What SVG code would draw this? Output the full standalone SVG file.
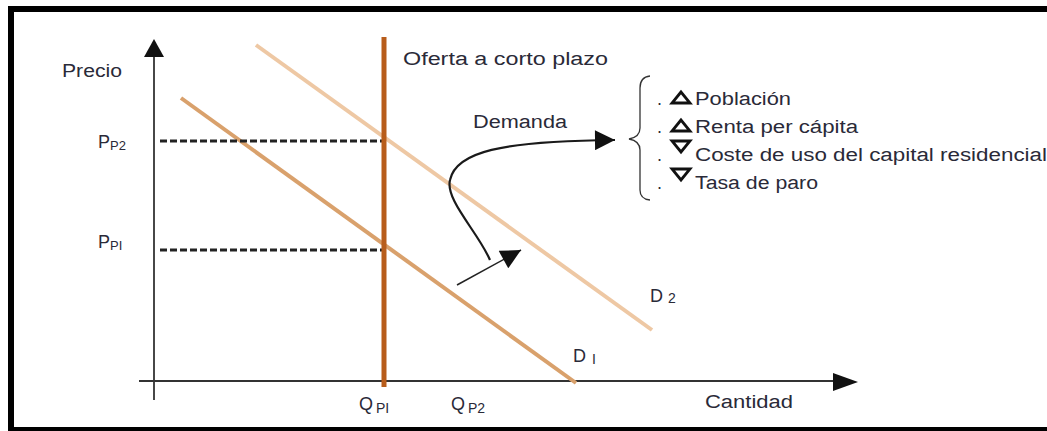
<svg xmlns="http://www.w3.org/2000/svg" width="1047" height="431" viewBox="0 0 1047 431">
<style>
.t{font-family:"Liberation Sans",Arial,sans-serif;fill:#2a2a38;font-size:18px}
.sub{font-size:13px}
.axis{stroke:#333;stroke-width:1.8;fill:none}
.dash{stroke:#222;stroke-width:3.2;stroke-dasharray:7,3;fill:none}
.curve{stroke:#1a1a1a;stroke-width:2.2;fill:none}
</style>
<defs>
<marker id="ah" viewBox="0 0 10 10" refX="10" refY="5" markerWidth="28" markerHeight="20" markerUnits="userSpaceOnUse" orient="auto"><path d="M0,0 L10,5 L0,10 Z" fill="#111"/></marker>
</defs>
<rect width="1047" height="431" fill="#fff"/>
<g id="frame" fill="#000">
<rect x="8" y="6" width="1039" height="6"/>
<rect x="8" y="6" width="6" height="425"/>
<rect x="8" y="427" width="1039" height="4"/>
</g>
<g id="axes">
<line class="axis" x1="154" y1="56" x2="154" y2="400"/>
<path d="M154,39 L144,57 L164,57 Z" fill="#111"/>
<line class="axis" x1="139" y1="381" x2="834" y2="381"/>
<path d="M858,382 L833,373 L833,391 Z" fill="#111"/>
</g>
<g id="demand2"><line x1="256" y1="45" x2="652" y2="330" stroke="#eec8a4" stroke-width="4"/></g>
<g id="demand1"><line x1="181" y1="98" x2="576" y2="383" stroke="#d9a16c" stroke-width="4"/></g>
<g id="connectors">
<line class="dash" x1="160" y1="141" x2="383" y2="141"/>
<line class="dash" x1="160" y1="250" x2="383" y2="250"/>
<path class="curve" d="M490,260 C478,232 445,200 450,180 C456,152 500,141 615,140" marker-end="url(#ah)"/>
<line x1="457" y1="285" x2="521" y2="250" stroke="#222" stroke-width="1.5" marker-end="url(#ah)"/>
</g>
<g id="supply"><line x1="384" y1="37" x2="384" y2="387" stroke="#b85d1b" stroke-width="5"/></g>
<g id="labels">
<text class="t" x="62" y="77" textLength="60" lengthAdjust="spacingAndGlyphs">Precio</text>
<text class="t" x="98" y="148" font-size="20">P<tspan class="sub" font-size="14" dy="2">P2</tspan></text>
<text class="t" x="98" y="248" font-size="20">P<tspan class="sub" font-size="14" dy="2">PI</tspan></text>
<text class="t" x="403" y="65" textLength="205" lengthAdjust="spacingAndGlyphs">Oferta a corto plazo</text>
<text class="t" x="473" y="128" textLength="94" lengthAdjust="spacingAndGlyphs">Demanda</text>
<text class="t" x="650" y="302" font-size="20">D<tspan font-size="14" dx="5" dy="1">2</tspan></text>
<text class="t" x="573" y="362" font-size="20">D<tspan font-size="14" dx="6" dy="2">I</tspan></text>
<text class="t" x="359" y="410" font-size="20">Q<tspan font-size="14" dx="3" dy="3">PI</tspan></text>
<text class="t" x="451" y="410" font-size="20">Q<tspan font-size="14" dx="3" dy="3">P2</tspan></text>
<text class="t" x="705" y="408" textLength="88" lengthAdjust="spacingAndGlyphs">Cantidad</text>
</g>
<g id="factors">
<path d="M650,76 Q640,77 640,88 L640,128 Q640,137 629,139 Q640,141 640,150 L640,190 Q640,199 650,200" fill="none" stroke="#333" stroke-width="1.3"/>
<g fill="none" stroke="#111" stroke-width="2.8" stroke-linejoin="miter">
<path d="M681,92 L672,103 L690,103 Z"/>
<path d="M681,120 L672,131 L690,131 Z"/>
<path d="M672,141 L690,141 L681,152 Z"/>
<path d="M672,169 L690,169 L681,180 Z"/>
</g>
<text class="t" x="657" y="105">.</text>
<text class="t" x="657" y="133">.</text>
<text class="t" x="657" y="161">.</text>
<text class="t" x="657" y="189">.</text>
<text class="t" x="695" y="105" textLength="96" lengthAdjust="spacingAndGlyphs">Población</text>
<text class="t" x="695" y="133" textLength="163" lengthAdjust="spacingAndGlyphs">Renta per cápita</text>
<text class="t" x="695" y="161" textLength="352" lengthAdjust="spacingAndGlyphs">Coste de uso del capital residencial</text>
<text class="t" x="695" y="189" textLength="123" lengthAdjust="spacingAndGlyphs">Tasa de paro</text>
</g>
</svg>
